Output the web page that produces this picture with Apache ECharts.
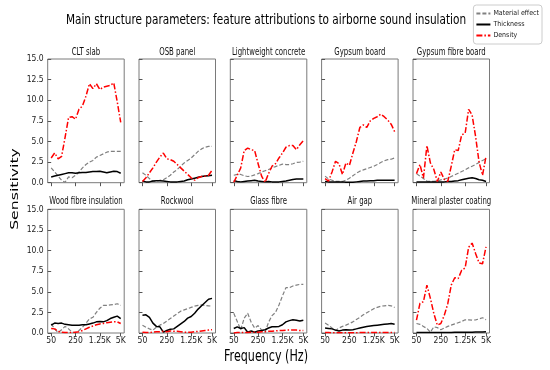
<!DOCTYPE html>
<html>
<head>
<meta charset="utf-8">
<script src="https://cdn.jsdelivr.net/npm/echarts@6/dist/echarts.min.js"></script>
<style>html,body{margin:0;padding:0;background:#fff}#c{width:550px;height:370px}</style>
</head>
<body>
<div id="c"></div>
<script>
// ---- data ----
const freqBands = ['50','63','80','100','125','160','200','250','315','400','500','630','800','1000','1250','1600','2000','2500','3150','4000','5000'];
const xTickIdx = [0, 7, 14, 20];
const xTickLabels = ['50', '250', '1.25K', '5K'];
const seriesNames = ['Material effect', 'Thickness', 'Density'];
const panelTitles = ['CLT slab', 'OSB panel', 'Lightweight concrete', 'Gypsum board', 'Gypsum fibre board',
  'Wood fibre insulation', 'Rockwool', 'Glass fibre', 'Air gap', 'Mineral plaster coating'];

const cltMaterial  = [1.8,1.3,0.8,0.3,0.05,0.7,0.6,0.9,1.3,1.8,2.2,2.5,2.7,3.1,3.3,3.5,3.7,3.8,3.8,3.8,3.8];
const cltThickness = [0.7,0.8,0.9,1.0,1.1,1.2,1.2,1.15,1.2,1.25,1.25,1.3,1.35,1.35,1.4,1.3,1.2,1.3,1.4,1.35,1.15];
const cltDensity   = [3.0,3.6,2.9,3.2,5.5,7.9,8.0,7.7,8.9,9.3,10.5,12.0,11.4,12.0,11.3,11.6,11.7,11.8,12.1,9.8,7.3];

const osbMaterial  = [1.2,0.9,0.5,0.15,0.2,0.3,0.35,0.6,0.9,1.3,1.6,2.0,2.4,2.7,3.0,3.4,3.8,4.1,4.3,4.4,4.4];
const osbThickness = [0.2,0.1,0.1,0.2,0.25,0.25,0.2,0.15,0.1,0.1,0.1,0.15,0.2,0.35,0.45,0.55,0.65,0.75,0.8,0.85,0.9];
const osbDensity   = [0.15,0.6,1.2,1.8,2.5,3.1,3.6,2.9,2.8,2.6,2.2,1.8,1.4,1.0,0.6,0.3,0.6,0.75,0.8,0.9,1.5];

const lwcMaterial  = [0.9,1.0,1.0,0.85,0.75,0.8,0.95,1.1,1.3,1.45,1.6,1.8,1.95,2.1,2.25,2.2,2.2,2.3,2.45,2.5,2.6];
const lwcThickness = [0.25,0.15,0.1,0.15,0.2,0.25,0.3,0.2,0.15,0.1,0.15,0.1,0.1,0.1,0.15,0.2,0.3,0.4,0.45,0.45,0.45];
const lwcDensity   = [0.05,0.9,1.8,3.9,4.2,4.0,3.9,2.3,0.8,0.05,1.1,2.0,2.3,3.0,3.6,4.3,4.5,4.5,4.0,4.6,5.1];

const gypMaterial  = [0.8,0.45,0.3,0.15,0.15,0.15,0.3,0.55,0.85,1.15,1.4,1.55,1.7,1.85,2.0,2.2,2.45,2.65,2.8,2.85,3.0];
const gypThickness = [0.15,0.1,0.1,0.1,0.1,0.1,0.05,0.05,0.05,0.1,0.15,0.2,0.2,0.25,0.25,0.3,0.3,0.3,0.3,0.3,0.3];
const gypDensity   = [0.5,0.2,1.3,2.6,2.3,1.0,2.4,2.1,3.6,5.0,6.7,7.0,6.7,7.5,7.8,8.0,8.3,8.0,7.6,7.1,6.2];

const gfbMaterial  = [1.1,0.8,0.5,0.2,0.15,0.15,0.2,0.35,0.45,0.55,0.75,0.95,1.15,1.35,1.55,1.8,2.0,2.2,2.45,2.7,2.9];
const gfbThickness = [0.1,0.1,0.1,0.1,0.1,0.1,0.1,0.1,0.1,0.15,0.15,0.2,0.25,0.35,0.45,0.55,0.6,0.5,0.35,0.3,0.15];
const gfbDensity   = [1.1,2.2,0.56,4.5,2.4,1.6,0.15,1.3,0.4,0.15,2.0,4.0,3.9,5.8,6.0,8.9,8.2,5.6,2.5,0.9,3.2];

const wfiMaterial  = [1.1,0.5,0.05,0.4,0.8,0.5,0.1,0.05,0.3,0.7,1.2,1.7,1.9,2.5,3.0,3.35,3.35,3.4,3.45,3.55,3.35];
const wfiThickness = [0.95,1.2,1.15,1.2,1.05,1.0,0.95,0.95,0.95,1.0,1.0,1.1,1.2,1.35,1.4,1.35,1.5,1.75,1.9,2.05,1.75];
const wfiDensity   = [0.55,0.5,0.2,0.1,0.05,0.05,0.05,0.1,0.15,0.3,0.5,0.7,0.85,1.0,1.1,1.15,1.25,1.3,1.35,1.35,1.15];

const rwMaterial   = [0.95,0.7,0.5,0.35,0.7,0.95,1.15,1.45,1.75,2.05,2.35,2.65,2.8,2.95,3.1,3.25,3.35,3.4,3.35,3.3,3.25];
const rwThickness  = [2.15,2.2,1.9,1.2,0.8,0.75,0.1,0.3,0.45,0.5,0.8,1.1,1.4,1.8,2.0,2.4,2.9,3.3,3.7,4.1,4.2];
const rwDensity    = [0.1,0.05,0.05,0.1,0.15,0.15,0.2,0.15,0.25,0.2,0.2,0.15,0.1,0.1,0.1,0.15,0.2,0.25,0.3,0.35,0.4];

const gfMaterial   = [2.4,1.4,0.4,1.8,2.4,1.3,0.6,0.9,0.35,0.1,1.3,2.1,2.5,3.4,4.5,5.5,5.5,5.7,5.8,5.9,5.9];
const gfThickness  = [0.55,0.75,0.55,0.65,0.1,0.25,0.1,0.25,0.3,0.4,0.6,0.75,0.75,0.8,1.0,1.35,1.5,1.6,1.55,1.45,1.55];
const gfDensity    = [0.0,0.05,0.05,0.05,0.05,0.1,0.1,0.1,0.15,0.15,0.2,0.2,0.25,0.3,0.3,0.35,0.35,0.35,0.35,0.3,0.3];

const agMaterial   = [1.2,0.95,0.6,0.3,0.6,0.8,0.95,1.15,1.35,1.65,1.9,2.2,2.45,2.7,2.95,3.1,3.25,3.3,3.35,3.3,3.1];
const agThickness  = [0.6,0.55,0.5,0.35,0.25,0.35,0.4,0.35,0.4,0.5,0.6,0.7,0.8,0.85,0.9,0.95,1.0,1.05,1.1,1.15,1.05];
const agDensity    = [0.05,0.05,0.04,0.04,0.03,0.03,0.03,0.03,0.04,0.04,0.05,0.05,0.05,0.05,0.05,0.06,0.06,0.06,0.06,0.06,0.06];

const mpcMaterial  = [1.15,1.05,0.8,0.55,0.1,0.75,0.65,0.4,0.6,0.8,0.95,1.1,1.25,1.4,1.6,1.6,1.55,1.6,1.7,1.85,1.6];
const mpcThickness = [0.05,0.05,0.05,0.05,0.05,0.05,0.05,0.05,0.05,0.05,0.05,0.08,0.08,0.1,0.1,0.1,0.1,0.12,0.12,0.12,0.15];
const mpcDensity   = [1.55,3.6,3.8,5.8,4.2,2.35,0.95,1.15,2.15,3.55,5.8,6.7,6.6,7.6,7.9,10.4,10.9,9.65,8.5,8.4,10.45];

const panelSeries = [
  [cltMaterial, cltThickness, cltDensity],
  [osbMaterial, osbThickness, osbDensity],
  [lwcMaterial, lwcThickness, lwcDensity],
  [gypMaterial, gypThickness, gypDensity],
  [gfbMaterial, gfbThickness, gfbDensity],
  [wfiMaterial, wfiThickness, wfiDensity],
  [rwMaterial, rwThickness, rwDensity],
  [gfMaterial, gfThickness, gfDensity],
  [agMaterial, agThickness, agDensity],
  [mpcMaterial, mpcThickness, mpcDensity]
];

// ---- layout / style ----
const NARROW = "'DejaVu Sans Condensed', 'Liberation Sans Narrow', 'DejaVu Sans', sans-serif";
const SANS = "'DejaVu Sans', sans-serif";
const HS = 0.71; // horizontal squeeze of the reference text
const colLeft = [47.7, 139, 230.3, 321.6, 413];
const panelW = 76.5;
const rowTop = [59, 209.3];
const panelH = 123.7;
const lineStyles = [
  { color: '#808080', width: 1.2, type: [4, 2] },
  { color: '#000000', width: 1.5, type: 'solid' },
  { color: '#ff0000', width: 1.5, type: [6, 2, 1.5, 2] }
];

const grids = [], xAxes = [], yAxes = [], series = [], graphics = [];
for (let k = 0; k < 10; k++) {
  const row = Math.floor(k / 5), col = k % 5;
  grids.push({ left: colLeft[col], top: rowTop[row], width: panelW, height: panelH,
    show: true, borderColor: '#7a7a7a', borderWidth: 1, backgroundColor: '#fff', containLabel: false });
  xAxes.push({
    gridIndex: k, type: 'value', min: -1, max: 21,
    axisLine: { show: false },
    splitLine: { show: false },
    axisTick: { show: true, customValues: xTickIdx, length: 3.5, lineStyle: { color: '#555', width: 1 } },
    axisLabel: { show: row === 1, customValues: xTickIdx, margin: 3,
      formatter: v => { const j = xTickIdx.indexOf(Math.round(v)); return j >= 0 ? xTickLabels[j] : ''; },
      fontSize: 8.5, color: '#222', fontFamily: NARROW }
  });
  yAxes.push({
    gridIndex: k, type: 'value', min: 0, max: 15, interval: 2.5,
    axisLine: { show: false }, splitLine: { show: false },
    axisTick: { show: true, length: 3.5, lineStyle: { color: '#555', width: 1 } },
    axisLabel: { show: col === 0, margin: 4, formatter: v => v.toFixed(1),
      fontSize: 8.5, color: '#222', fontFamily: NARROW }
  });
  for (let s = 0; s < 3; s++) {
    series.push({
      name: seriesNames[s], type: 'line', xAxisIndex: k, yAxisIndex: k,
      data: panelSeries[k][s].map((v, i) => [i, v]),
      symbol: 'none', showSymbol: false, smooth: false,
      lineStyle: lineStyles[s], itemStyle: { color: lineStyles[s].color },
      z: 2 + s, animation: false, silent: true
    });
  }
  graphics.push({ type: 'text', x: colLeft[col] + panelW / 2, y: row === 0 ? 52 : 201.5, scaleX: HS,
    style: { text: panelTitles[k], fontSize: 9.8, fontFamily: SANS, fill: '#111',
      align: 'center', verticalAlign: 'middle', textAlign: 'center', textVerticalAlign: 'middle' } });
}

graphics.push({ type: 'text', x: 266, y: 20, scaleX: 0.75,
  style: { text: 'Main structure parameters: feature attributions to airborne sound insulation',
    fontSize: 14, fontFamily: SANS, fill: '#000', align: 'center', verticalAlign: 'middle',
    textAlign: 'center', textVerticalAlign: 'middle' } });
graphics.push({ type: 'text', x: 266, y: 357, scaleX: HS,
  style: { text: 'Frequency (Hz)', fontSize: 15.7, fontFamily: SANS, fill: '#000', align: 'center',
    verticalAlign: 'middle', textAlign: 'center', textVerticalAlign: 'middle' } });
graphics.push({ type: 'text', x: 15, y: 189, rotation: Math.PI / 2, scaleY: HS,
  style: { text: 'Sensitivity', fontSize: 15.7, fontFamily: SANS, fill: '#000', align: 'center',
    verticalAlign: 'middle', textAlign: 'center', textVerticalAlign: 'middle' } });

const chart = echarts.init(document.getElementById('c'), null, { renderer: 'canvas' });
chart.setOption({
  animation: false,
  backgroundColor: '#fff',
  grid: grids, xAxis: xAxes, yAxis: yAxes, series: series,
  legend: {
    data: seriesNames, orient: 'vertical', right: 8, top: 5,
    itemWidth: 14, itemHeight: 8, itemGap: 4,
    itemStyle: { opacity: 0 },
    textStyle: { fontSize: 7, fontFamily: NARROW, color: '#222', padding: [0, 0, 0, -2] },
    borderColor: '#cccccc', borderWidth: 1, borderRadius: 3, padding: [5, 3, 5, 2],
    backgroundColor: '#fff', selectedMode: false
  },
  graphic: graphics
});
</script>
</body>
</html>
